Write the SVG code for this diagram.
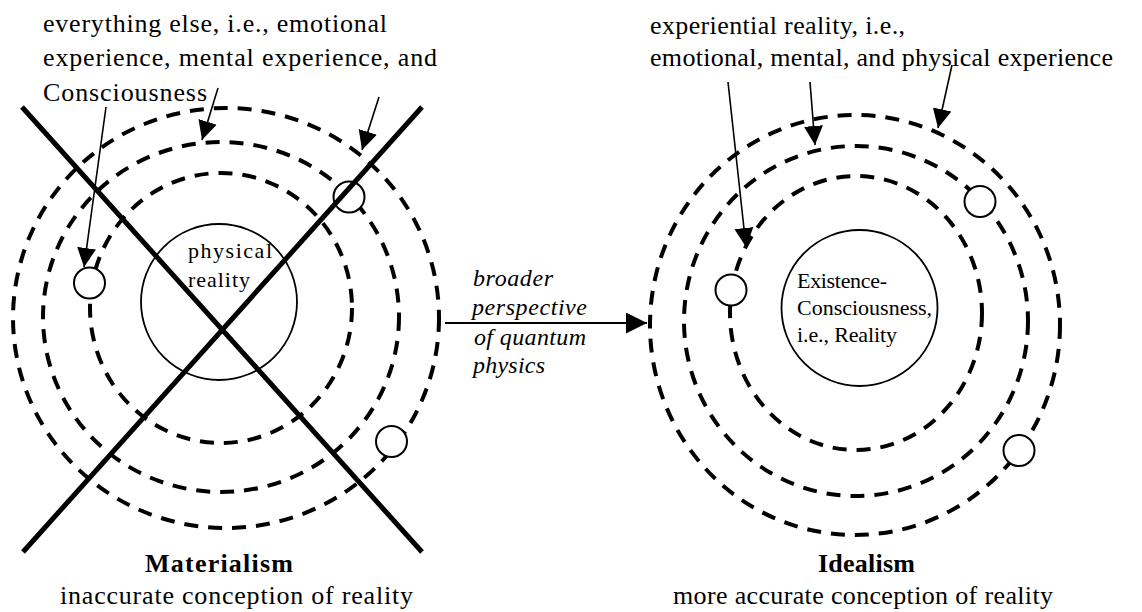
<svg xmlns="http://www.w3.org/2000/svg" width="1142" height="612" viewBox="0 0 1142 612">
<style>
  text { font-family: "Liberation Serif", Tinos, "Times New Roman", Times, serif; fill: #000; }
  .lbl { font-size: 26px; }
  .ttl { font-size: 26px; font-weight: bold; }
  .cap { font-size: 22px; }
  .it { font-size: 24px; font-style: italic; }
  .ring { fill: none; stroke: #000; stroke-width: 4; stroke-dasharray: 14 10; }
  .core { fill: #fff; stroke: #000; stroke-width: 1.8; }
  .orb { fill: #fff; stroke: #000; stroke-width: 2; }
  .cross { stroke: #000; stroke-width: 5; fill: none; }
  .ptr { stroke: #000; stroke-width: 1.6; fill: none; marker-end: url(#ah); }
</style>
<defs>
  <marker id="ah" viewBox="0 0 20 20" refX="20" refY="10" markerWidth="19" markerHeight="21" markerUnits="userSpaceOnUse" orient="auto">
    <path d="M0,0 L20,10 L0,20 z" fill="#000"/>
  </marker>
  <marker id="ahb" viewBox="0 0 20 20" refX="20" refY="10" markerWidth="23" markerHeight="21" markerUnits="userSpaceOnUse" orient="auto">
    <path d="M0,0 L20,10 L0,20 z" fill="#000"/>
  </marker>
</defs>
<rect width="1142" height="612" fill="#fff"/>

<g id="materialism">
  <ellipse class="ring" cx="226" cy="318" rx="213" ry="210"/>
  <ellipse class="ring" cx="221" cy="317" rx="178" ry="175"/>
  <ellipse class="ring" cx="221" cy="308" rx="131" ry="135"/>
  <circle class="core" cx="219" cy="302" r="78"/>
  <text class="cap" x="188" y="258" textLength="84" lengthAdjust="spacing">physical</text>
  <text class="cap" x="188" y="287" textLength="62" lengthAdjust="spacing">reality</text>
  <circle class="orb" cx="89.5" cy="283" r="15.5"/>
  <circle class="orb" cx="349" cy="197" r="15.5"/>
  <circle class="orb" cx="391.5" cy="441.5" r="15.5"/>
  <line class="cross" x1="22" y1="107" x2="422" y2="552"/>
  <line class="cross" x1="422" y1="107" x2="23" y2="552"/>
  <text class="ttl" x="145" y="572" textLength="148" lengthAdjust="spacing">Materialism</text>
  <text class="lbl" x="60" y="604" textLength="353" lengthAdjust="spacing">inaccurate conception of reality</text>
</g>

<g id="materialism-label">
  <text class="lbl" x="43" y="32" textLength="344" lengthAdjust="spacing">everything else, i.e., emotional</text>
  <text class="lbl" x="43" y="66" textLength="394" lengthAdjust="spacing">experience, mental experience, and</text>
  <text class="lbl" x="43" y="101" textLength="164" lengthAdjust="spacing">Consciousness</text>
</g>

<g id="idealism">
  <ellipse class="ring" cx="855" cy="325" rx="205" ry="210"/>
  <ellipse class="ring" cx="856" cy="321" rx="172" ry="175"/>
  <ellipse class="ring" cx="856" cy="313" rx="126" ry="137"/>
  <circle class="core" cx="859.5" cy="308" r="78"/>
  <text class="cap" x="797" y="288" textLength="90" lengthAdjust="spacing">Existence-</text>
  <text class="cap" x="797" y="315" textLength="135" lengthAdjust="spacing">Consciousness,</text>
  <text class="cap" x="797" y="342" textLength="100" lengthAdjust="spacing">i.e., Reality</text>
  <circle class="orb" cx="980" cy="201.5" r="15.5"/>
  <circle class="orb" cx="731" cy="290" r="15.5"/>
  <circle class="orb" cx="1019" cy="450.5" r="15.5"/>
  <text class="ttl" x="818" y="572" textLength="97" lengthAdjust="spacing">Idealism</text>
  <text class="lbl" x="673" y="604" textLength="380" lengthAdjust="spacing">more accurate conception of reality</text>
</g>

<g id="idealism-label">
  <text class="lbl" x="650" y="34" textLength="255" lengthAdjust="spacing">experiential reality, i.e.,</text>
  <text class="lbl" x="650" y="66" textLength="463" lengthAdjust="spacing">emotional, mental, and physical experience</text>
</g>

<g id="transition-label">
  <text class="it" x="473" y="286" textLength="80" lengthAdjust="spacing">broader</text>
  <text class="it" x="472" y="315" textLength="115" lengthAdjust="spacing">perspective</text>
  <text class="it" x="474" y="345" textLength="112" lengthAdjust="spacing">of quantum</text>
  <text class="it" x="473" y="373" textLength="72" lengthAdjust="spacing">physics</text>
</g>

<g id="connectors">
  <line class="ptr" x1="106" y1="107" x2="84" y2="267"/>
  <line class="ptr" x1="218" y1="88" x2="202" y2="140"/>
  <line class="ptr" x1="379" y1="97" x2="362" y2="150"/>
  <line class="ptr" x1="728" y1="82" x2="746" y2="247"/>
  <line class="ptr" x1="810" y1="82" x2="815" y2="145"/>
  <line class="ptr" x1="952" y1="65" x2="938" y2="128"/>
  <line x1="445" y1="323" x2="647" y2="323" stroke="#000" stroke-width="2" marker-end="url(#ahb)"/>
</g>
</svg>
